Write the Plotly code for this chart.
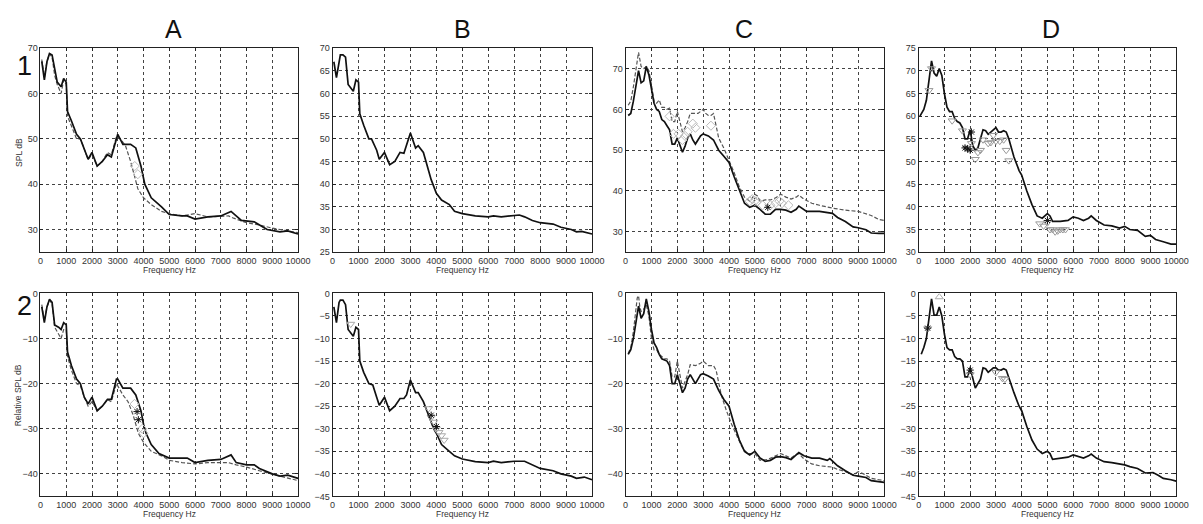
import plotly.graph_objects as go
from plotly.subplots import make_subplots

# ---------------- data (frequency Hz, dB) ----------------
A1_SOLID = [(50, 67.1), (150, 63), (250, 67), (350, 68.8), (450, 68.5), (550, 65), (650, 62.5), (800, 61.5), (900, 63.3),
            (1000, 62.5), (1050, 56), (1200, 54), (1400, 51), (1550, 50), (1700, 47.5), (1850, 45.5), (2000, 47),
            (2200, 44), (2400, 45), (2600, 46.5), (2750, 46), (2950, 50.5), (3000, 51), (3200, 48.8), (3500, 48.8),
            (3700, 48), (3900, 44), (4050, 40), (4300, 37), (4700, 35), (5000, 33.3), (5500, 33), (5700, 33),
            (6000, 32.3), (6500, 32.8), (7000, 33), (7300, 33.8), (7400, 34), (7800, 32), (8300, 31.7), (8800, 30),
            (9300, 29.5), (9600, 29.7), (10000, 29)]
A1_DASH = [(50, 67.5), (150, 63.5), (250, 67), (350, 68.8), (450, 68), (550, 64), (650, 62), (800, 60), (900, 63),
           (1000, 62), (1050, 55), (1200, 53), (1400, 50), (1550, 50), (1700, 47.5), (1850, 45.5), (2000, 46.5),
           (2200, 44), (2400, 45), (2600, 47), (2750, 46.5), (2950, 50.5), (3100, 50), (3300, 48.5), (3500, 45),
           (3650, 42), (3780, 39), (4000, 37), (4300, 35.5), (4700, 34), (5000, 33.5), (5500, 33), (6000, 33.5),
           (6500, 32.8), (7000, 33), (7300, 33), (7500, 32.5), (8000, 31.5), (8500, 31), (9000, 30.3), (9500, 29.8),
           (10000, 29.3)]
A1_DIAMOND = [(3660, 44), (3780, 42.2)]

B1_SOLID = [(50, 67), (150, 63.5), (300, 68.5), (400, 68.5), (500, 68), (600, 62), (800, 60.5), (900, 63), (1000, 62.5),
            (1050, 55.5), (1200, 53), (1400, 50), (1500, 50), (1700, 47.5), (1800, 45.5), (2000, 47), (2200, 44.3),
            (2400, 45), (2600, 47), (2750, 46.8), (3000, 51.3), (3200, 48), (3300, 48.5), (3500, 47), (3600, 45),
            (3800, 41), (4000, 38), (4200, 36.5), (4500, 35.5), (4700, 34), (5000, 33.5), (5500, 33), (6000, 32.8),
            (6200, 33), (6500, 32.8), (7000, 33), (7200, 33.2), (7400, 32.8), (7700, 32), (8000, 31.5), (8500, 31.2),
            (8800, 30.5), (9200, 30), (9400, 29.5), (9600, 29.6), (10000, 29)]

C1_SOLID = [(100, 58.5), (200, 59), (300, 62), (400, 66), (500, 69.5), (600, 66.5), (700, 67), (800, 70.5), (900, 68.5),
            (1000, 65), (1100, 61.5), (1200, 60), (1300, 59.5), (1400, 57.5), (1500, 57), (1600, 56), (1700, 55),
            (1800, 51.5), (1900, 51.5), (2000, 53), (2100, 51), (2200, 49.5), (2300, 51), (2400, 53), (2500, 54),
            (2600, 52.5), (2700, 51.5), (2800, 52.5), (2900, 53.5), (3000, 54), (3200, 53.5), (3400, 52.5),
            (3600, 50), (3800, 48.5), (4000, 47), (4200, 43.5), (4400, 40), (4600, 37), (4800, 36), (5000, 36.5),
            (5200, 35.5), (5400, 34.3), (5600, 34.3), (5800, 35.5), (6000, 35.5), (6200, 35.3), (6400, 34.8),
            (6600, 35.5), (6700, 36.3), (6900, 35.5), (7000, 35), (7500, 35), (8000, 34.5), (8200, 33.5),
            (8500, 32.5), (8800, 31.2), (9000, 31), (9300, 30.5), (9500, 29.7), (9800, 29.6), (10000, 29.6)]
C1_DASH = [(100, 61), (200, 62), (300, 65.5), (400, 70), (500, 74), (600, 70.5), (700, 70), (800, 70.5), (900, 69.5),
           (1000, 66), (1100, 62), (1200, 61.5), (1300, 62.3), (1400, 60.5), (1500, 60.5), (1600, 60), (1700, 60.3),
           (1800, 57), (1900, 57), (2000, 59.5), (2100, 57), (2200, 54.5), (2300, 55.5), (2400, 57), (2500, 59),
           (2600, 59), (2800, 59), (3000, 60), (3100, 59), (3200, 58.5), (3300, 58.5), (3400, 59), (3600, 53),
           (3800, 50.5), (4000, 47.5), (4200, 44.5), (4400, 41), (4600, 38.5), (4800, 37.5), (5000, 39.2),
           (5100, 38.8), (5200, 37.5), (5400, 37.8), (5600, 37.8), (5800, 38.3), (6000, 39.2), (6200, 38.5),
           (6400, 38), (6600, 38.5), (6700, 39), (6900, 38), (7200, 37), (7500, 36.5), (8000, 35.8), (8500, 35.3),
           (9000, 35), (9200, 34.6), (9500, 34), (9800, 33), (10000, 32.8)]
C1_DIAMOND = [(1700, 58.3), (1850, 54), (2050, 54), (2200, 52.5), (2300, 53.5), (2400, 54.5), (2600, 56.5),
              (2700, 55.5), (3300, 56), (4800, 37.5), (4900, 38), (5000, 37.5), (5100, 37.5), (5300, 36.5),
              (5600, 36.5), (5800, 37), (5950, 37.5), (6050, 37), (6300, 36.5)]
C1_STAR = [(5500, 36)]

D1_SOLID = [(50, 60), (200, 61.5), (300, 63.5), (400, 68), (500, 72.2), (600, 69.5), (700, 68.8), (800, 70.5),
            (900, 69), (1000, 65), (1100, 62), (1200, 61), (1300, 61), (1400, 59.5), (1500, 58.8), (1600, 58.5),
            (1700, 57.5), (1800, 55), (1900, 55), (2000, 57), (2100, 53.5), (2200, 52.5), (2300, 53), (2400, 55),
            (2500, 57), (2600, 56.8), (2700, 56), (2800, 56.5), (2900, 57), (3000, 57.5), (3100, 56.5), (3200, 56.5),
            (3300, 56.8), (3400, 56.5), (3500, 55), (3700, 51), (3900, 48), (4000, 47), (4200, 43.5), (4400, 40.5),
            (4600, 38), (4800, 37.5), (5000, 38.5), (5100, 38), (5200, 36.8), (5500, 36.8), (5800, 37), (6000, 37.8),
            (6200, 37.5), (6400, 37), (6600, 37.5), (6700, 38), (6900, 37), (7200, 36), (7500, 35.8), (7800, 35.3),
            (8000, 35.7), (8200, 35), (8500, 34.8), (8800, 33.5), (9000, 33.7), (9200, 32.8), (9500, 32.3),
            (9800, 31.8), (10000, 31.8)]
D1_TRI = [(400, 65.7), (500, 70.5), (1300, 59), (1700, 56.8), (1850, 53), (2050, 54), (2200, 50.5), (2300, 52),
          (2400, 52.5), (2500, 54.8), (2700, 54), (2800, 54.2), (2900, 55.8), (3000, 54.5), (3150, 54.5),
          (3300, 54.8), (3400, 52.5), (3500, 50.2), (4700, 36.3), (4850, 35.8), (5000, 36.5), (5100, 35),
          (5200, 35), (5300, 34.5), (5400, 34.7), (5500, 35), (5600, 35), (5700, 35)]
D1_STAR = [(1800, 53), (1900, 52.8), (2000, 52.5), (2050, 56.5), (5000, 37)]

A2_SOLID = [(50, -3), (150, -6.5), (250, -3), (350, -1.3), (450, -2), (550, -7), (700, -7.5), (800, -8), (900, -6.5),
            (1000, -7), (1050, -13), (1200, -16), (1400, -19), (1550, -20), (1700, -23), (1850, -24.5), (2000, -23),
            (2200, -26), (2400, -25), (2600, -23.5), (2750, -23.5), (2950, -19), (3000, -19), (3200, -21),
            (3500, -21), (3700, -22.5), (3900, -26), (4000, -29), (4100, -31), (4300, -33.5), (4600, -35.5),
            (5000, -36.5), (5500, -36.5), (5700, -36.5), (6000, -37.5), (6500, -37), (7000, -36.8), (7300, -36),
            (7400, -35.8), (7600, -37.5), (8000, -38), (8300, -38), (8500, -38.8), (9000, -40), (9300, -40.5),
            (9600, -40.3), (10000, -41)]
A2_DASH = [(50, -2.5), (150, -6), (250, -3), (350, -1.5), (450, -2.3), (550, -7.5), (700, -9), (800, -10), (900, -8),
           (1000, -8), (1050, -14), (1200, -17), (1400, -20), (1550, -20.5), (1700, -23), (1850, -25), (2000, -24),
           (2200, -26), (2400, -25), (2600, -23.5), (2750, -24), (2950, -20), (3050, -21), (3200, -22.5),
           (3400, -24), (3600, -27), (3800, -31), (4000, -33), (4300, -35), (4700, -36), (5000, -37), (5500, -37.5),
           (6000, -37.8), (6500, -37.5), (7000, -37.5), (7300, -37.5), (7600, -38), (8000, -38.5), (8500, -39.3),
           (9000, -40), (9500, -40.8), (10000, -41.5)]
A2_DIAMOND = [(3650, -24.5), (3950, -30), (4000, -31)]
A2_STAR = [(3750, -26.2), (3800, -28)]

B2_SOLID = [(50, -3), (150, -6.5), (250, -2), (300, -1.5), (400, -1.5), (500, -2.5), (600, -8), (800, -9.5),
            (900, -7.5), (1000, -8), (1050, -15), (1200, -17.5), (1400, -20), (1550, -20.3), (1700, -23),
            (1800, -24.8), (2000, -23), (2200, -26), (2400, -25), (2600, -23.3), (2750, -23.3), (2850, -22.5),
            (3000, -19.2), (3200, -22), (3300, -22), (3500, -24), (3700, -27), (3900, -30), (4000, -31),
            (4200, -33.5), (4500, -35), (4700, -36), (5000, -36.7), (5500, -37.3), (6000, -37.5), (6200, -37.2),
            (6500, -37.5), (7000, -37.2), (7400, -37.2), (7700, -38), (8000, -38.8), (8500, -39.3), (8800, -40),
            (9200, -40.5), (9400, -41), (9700, -40.7), (10000, -41.3)]
B2_TRI = [(700, -6.8), (3700, -25.5), (3800, -27.5), (3900, -28.5), (4000, -30), (4100, -30.8), (4200, -31.5),
          (4300, -32.5)]
B2_STAR = [(3800, -27), (4000, -29.5)]

C2_SOLID = [(100, -13.5), (200, -12.5), (300, -10), (400, -6), (500, -2.8), (600, -5.5), (700, -4.5), (800, -1.2),
            (900, -4), (1000, -8), (1100, -11), (1200, -12), (1300, -13.5), (1400, -14.5), (1600, -15),
            (1700, -16), (1800, -20), (1900, -20), (2000, -18), (2100, -20), (2200, -22), (2300, -21), (2400, -19),
            (2500, -18), (2600, -19), (2700, -20), (2800, -19), (2900, -18), (3000, -17.8), (3200, -18.3),
            (3400, -19), (3600, -21.5), (3800, -23.5), (4000, -25), (4200, -29), (4400, -32.5), (4600, -35),
            (4800, -35.8), (5000, -35), (5200, -36.5), (5400, -37.2), (5600, -37), (5800, -36.3), (6000, -36.2),
            (6200, -36.4), (6400, -36.8), (6600, -35.8), (6700, -35.3), (6900, -36), (7200, -36.5), (7500, -36.5),
            (7800, -37), (7900, -36.6), (8000, -37.2), (8200, -38.2), (8500, -39.3), (8800, -40.3), (9000, -40.5),
            (9300, -40.8), (9500, -41.5), (9800, -41.7), (10000, -41.9)]
C2_DASH = [(100, -13.3), (200, -12), (300, -8.5), (400, -3.5), (450, -1), (500, -0.5), (550, -3), (600, -4),
           (700, -3.5), (800, -2.5), (900, -5), (1000, -10), (1100, -12.5), (1200, -12.5), (1300, -13.5),
           (1400, -14), (1500, -14.5), (1600, -14.5), (1700, -15), (1800, -18.5), (1900, -18.5), (2000, -15),
           (2100, -18), (2200, -21), (2300, -19.5), (2400, -18), (2500, -15.8), (2700, -16), (2900, -15.5),
           (3000, -15), (3200, -16), (3400, -16), (3500, -17), (3700, -22.5), (3900, -26), (4100, -29),
           (4300, -31.5), (4500, -34), (4700, -35.5), (4900, -35.5), (5000, -35.5), (5200, -37), (5500, -36.8),
           (5800, -36), (6000, -35.5), (6200, -36), (6400, -36.5), (6600, -35.7), (6700, -35.5), (6900, -36.7),
           (7200, -37.8), (7500, -38.2), (8000, -38.5), (8200, -39), (8500, -39.5), (8800, -40.2), (9000, -39.5),
           (9200, -40), (9500, -41), (9800, -41.3), (10000, -41.5)]

D2_SOLID = [(100, -13.5), (200, -12), (300, -10), (400, -6), (500, -1.2), (600, -4.8), (700, -4.8), (800, -3),
            (900, -5), (1000, -9), (1100, -12), (1200, -12.5), (1300, -12.5), (1400, -14), (1500, -14.5),
            (1600, -14.5), (1700, -15), (1800, -18.5), (1900, -18.5), (2000, -16.5), (2100, -19), (2200, -21),
            (2300, -20), (2400, -19), (2500, -16.5), (2600, -16.7), (2700, -17.5), (2800, -17), (2900, -16.5),
            (3000, -16.5), (3100, -17), (3200, -17), (3300, -16.7), (3400, -17), (3500, -18.8), (3700, -22),
            (3900, -25), (4000, -26), (4200, -29.5), (4400, -32.5), (4600, -34.5), (4800, -35.5), (5000, -35),
            (5100, -35.5), (5200, -36.8), (5500, -36.6), (5800, -36.3), (6000, -35.8), (6200, -36.2), (6400, -36.5),
            (6600, -36), (6700, -35.6), (6900, -36.5), (7200, -37.3), (7500, -37.5), (7800, -37.8), (8000, -38),
            (8200, -38.4), (8500, -38.8), (8800, -39.8), (9000, -39.8), (9100, -39.7), (9300, -40.3), (9500, -41),
            (9800, -41.3), (10000, -41.6)]
D2_TRI_UP = [(800, -0.8)]
D2_TRI = [(350, -7.8), (2000, -18), (3000, -17.5), (3250, -18.8), (3350, -19)]
D2_STAR = [(350, -7.7), (2000, -17)]

COLUMN_TITLES = ["A", "B", "C", "D"]
ROW_TITLES = ["1", "2"]
X_TICKS = [0, 1000, 2000, 3000, 4000, 5000, 6000, 7000, 8000, 9000, 10000]
Y_LABELS = ["SPL dB", "Relative SPL dB"]
X_LABEL = "Frequency Hz"

# ---------------- layout geometry (pixels) ----------------
W, H = 1203, 524
COLS_PX = [(38, 299), (334, 597), (631, 893), (928, 1189)]
ROWS_PX = [(44, 252), (294, 501)]
Y_RANGES = {(1, 1): (25, 70, 10), (1, 2): (25, 70, 5), (1, 3): (25, 75, 10), (1, 4): (30, 75, 5),
            (2, 1): (-45, 0, 10), (2, 2): (-45, 0, 5), (2, 3): (-45, 0, 10), (2, 4): (-45, 0, 5)}

fig = make_subplots(rows=2, cols=4)


def unzip(pairs):
    return [p[0] for p in pairs], [p[1] for p in pairs]


def line(pairs, r, c, dash=False):
    x, y = unzip(pairs)
    fig.add_trace(go.Scatter(x=x, y=y, mode="lines",
                             line=dict(color="#555555" if dash else "#111111",
                                       width=1.2 if dash else 1.7,
                                       dash="4px,2px" if dash else "solid"),
                             showlegend=False, hoverinfo="skip"), row=r, col=c)


def marks(pairs, r, c, symbol, color, size=7):
    x, y = unzip(pairs)
    fig.add_trace(go.Scatter(x=x, y=y, mode="markers",
                             marker=dict(symbol=symbol, color=color, size=size,
                                         line=dict(width=1, color=color)),
                             showlegend=False, hoverinfo="skip"), row=r, col=c)


# row 1
line(A1_DASH, 1, 1, dash=True)
line(A1_SOLID, 1, 1)
marks(A1_DIAMOND, 1, 1, "diamond-open", "#bbbbbb")
line(B1_SOLID, 1, 2)
line(C1_DASH, 1, 3, dash=True)
line(C1_SOLID, 1, 3)
marks(C1_DIAMOND, 1, 3, "diamond-open", "#bbbbbb")
marks(C1_STAR, 1, 3, "asterisk-open", "#111111", 6)
line(D1_SOLID, 1, 4)
marks(D1_TRI, 1, 4, "triangle-down-open", "#999999")
marks(D1_STAR, 1, 4, "asterisk-open", "#111111", 6)
# row 2
line(A2_DASH, 2, 1, dash=True)
line(A2_SOLID, 2, 1)
marks(A2_DIAMOND, 2, 1, "diamond-open", "#bbbbbb")
marks(A2_STAR, 2, 1, "asterisk-open", "#111111", 6)
line(B2_SOLID, 2, 2)
marks(B2_TRI, 2, 2, "triangle-down-open", "#aaaaaa")
marks(B2_STAR, 2, 2, "asterisk-open", "#111111", 6)
line(C2_DASH, 2, 3, dash=True)
line(C2_SOLID, 2, 3)
line(D2_SOLID, 2, 4)
marks(D2_TRI_UP, 2, 4, "triangle-up-open", "#aaaaaa")
marks(D2_TRI, 2, 4, "triangle-down-open", "#999999")
marks(D2_STAR, 2, 4, "asterisk-open", "#111111", 6)

tick_font = dict(family="Liberation Sans, Arial, sans-serif", size=9, color="#333333")
label_font = dict(family="Liberation Sans, Arial, sans-serif", size=8.5, color="#333333")
axis_common = dict(showline=True, linecolor="#222222", linewidth=1, mirror="ticks", ticks="inside",
                   ticklen=3, tickcolor="#222222", showgrid=True, gridcolor="#444444", gridwidth=1,
                   griddash="dot", zeroline=False, tickfont=tick_font)

for r in (1, 2):
    for c in (1, 2, 3, 4):
        x0, x1 = COLS_PX[c - 1]
        y0, y1 = ROWS_PX[r - 1]
        lo, hi, step = Y_RANGES[(r, c)]
        fig.update_xaxes(domain=[x0 / W, x1 / W], range=[0, 10000], tickvals=X_TICKS,
                         ticktext=[str(t) for t in X_TICKS], row=r, col=c, **axis_common)
        fig.update_yaxes(domain=[1 - y1 / H, 1 - y0 / H], range=[lo, hi], tick0=0, dtick=step,
                         row=r, col=c, **axis_common)

annotations = []
title_x = [173, 466, 751, 1062]
for i, t in enumerate(COLUMN_TITLES):
    annotations.append(dict(text=t, x=title_x[i] / W, y=1 - 24 / H, xref="paper", yref="paper",
                            showarrow=False, xanchor="center", yanchor="middle",
                            font=dict(family="Liberation Sans, Arial, sans-serif", size=25, color="#111111")))
for i, t in enumerate(ROW_TITLES):
    yy = [62, 307][i]
    annotations.append(dict(text=t, x=22 / W, y=1 - yy / H, xref="paper", yref="paper",
                            showarrow=False, xanchor="center", yanchor="middle",
                            font=dict(family="Liberation Sans, Arial, sans-serif", size=27, color="#111111")))
for r, yy in ((1, 270), (2, 519)):
    for c in range(4):
        x0, x1 = COLS_PX[c]
        annotations.append(dict(text=X_LABEL, x=(x0 + x1) / 2 / W, y=1 - yy / H, xref="paper", yref="paper",
                                showarrow=False, xanchor="center", yanchor="middle", font=label_font))
for i, t in enumerate(Y_LABELS):
    yy = [150, 398][i]
    annotations.append(dict(text=t, x=16 / W, y=1 - yy / H, xref="paper", yref="paper", textangle=-90,
                            showarrow=False, xanchor="center", yanchor="middle", font=label_font))

fig.update_layout(width=W, height=H, margin=dict(l=0, r=0, t=0, b=0),
                  paper_bgcolor="white", plot_bgcolor="white", annotations=annotations)

fig.write_html("out.html", config={"displayModeBar": False},
               post_script="document.body.style.margin='0';document.body.style.overflow='hidden';")
